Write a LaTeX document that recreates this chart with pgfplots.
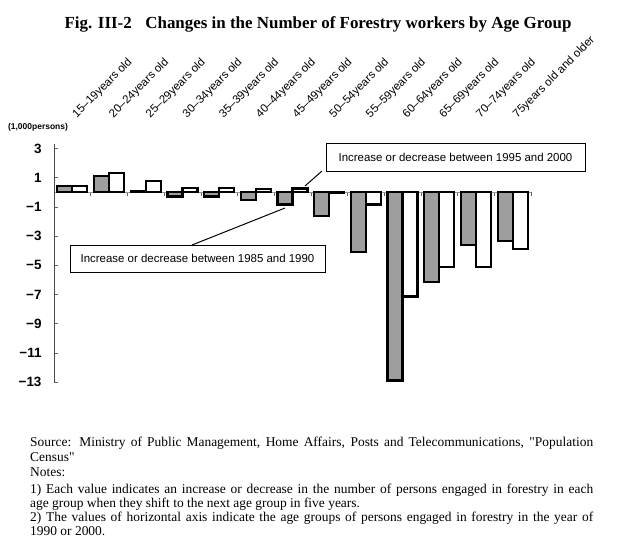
\documentclass[border=0pt]{standalone}
\usepackage{fontspec}
\setmainfont{Liberation Serif}[Ligatures=TeXOff]
\newfontfamily\arial{Liberation Sans}
\usepackage{pgfplots}
\pgfplotsset{compat=1.18}
\begin{document}
\begin{tikzpicture}
\path[use as bounding box] (0,0) rectangle (624bp,-542bp);
% title
\node[anchor=base, font=\bfseries\fontsize{17}{19}\selectfont] at (318bp,-28bp)
  {Fig. III-2\hspace{0.8em}Changes in the Number of Forestry workers by Age Group};
\node[font=\arial\bfseries\fontsize{8.5}{10}\selectfont] at (38bp,-127bp) {(1,000persons)};
\begin{axis}[
  at={(54bp,-144bp)}, anchor=north west,
  scale only axis, width=477bp, height=238.7bp,
  xmin=-0.5, xmax=12.5, ymin=-13.05, ymax=3.3,
  axis y line=left, axis x line=middle,
  axis line style={-},
  x axis line style={black!40, line width=0.5bp},
  y axis line style={black!70, line width=0.8bp},
  xtick={-0.5,0.5,...,12.5}, xticklabels={},
  ytick={-13,-11,-9,-7,-5,-3,-1,1,3},
  yticklabels={−13,−11,−9,−7,−5,−3,−1,1,3},
  yticklabel style={font=\arial\bfseries\fontsize{13.5}{15}\selectfont, xshift=-9bp},
  major tick length=4bp,
  ytick align=inside,
  xtick align=inside,
  tick style={black!60, line width=0.5bp},
  ybar=0pt, bar width=15bp,
  clip=false,
]
\addplot[ybar, fill=black!38, draw=black, line width=2.2bp] coordinates {
 (0,0.4) (1,1.1) (2,0.1) (3,-0.3) (4,-0.3) (5,-0.55) (6,-0.85) (7,-1.65)
 (8,-4.1) (9,-12.9) (10,-6.15) (11,-3.6) (12,-3.35)};
\addplot[ybar, fill=white, draw=black, line width=2.2bp] coordinates {
 (0,0.4) (1,1.3) (2,0.75) (3,0.3) (4,0.3) (5,0.23) (6,0.25) (7,-0.05)
 (8,-0.85) (9,-7.15) (10,-5.15) (11,-5.15) (12,-3.9)};
\foreach \i/\lab in {0/15–19years old,1/20–24years old,2/25–29years old,3/30–34years old,
  4/35–39years old,5/40–44years old,6/45–49years old,7/50–54years old,8/55–59years old,
  9/60–64years old,10/65–69years old,11/70–74years old,12/75years old and older}{
  \edef\temp{\noexpand\node[rotate=45, anchor=base west, xshift=3bp,
     font=\noexpand\arial\noexpand\fontsize{11.5}{13}\noexpand\selectfont]
     at (axis cs:\i,4.75) {\lab};}
  \temp
}
\end{axis}
% annotation boxes
\draw[line width=1bp] (326bp,-143bp) rectangle (585bp,-171bp);
\node[font=\arial\fontsize{11.5}{13}\selectfont] at (455.5bp,-157bp)
  {Increase or decrease between 1995 and 2000};
\draw[line width=1bp] (305bp,-186bp) -- (322bp,-171bp);
\draw[line width=1bp] (70bp,-245bp) rectangle (325bp,-272.7bp);
\node[font=\arial\fontsize{11.5}{13}\selectfont] at (197.5bp,-258.8bp)
  {Increase or decrease between 1985 and 1990};
\draw[line width=1bp] (285bp,-208bp) -- (192bp,-245bp);
% notes
\begin{scope}[every node/.style={anchor=base west, inner sep=0pt, font=\fontsize{13.5}{15}\selectfont}]
\node at (30bp,-446bp) {\makebox[563bp][s]{Source: Ministry of Public Management, Home Affairs, Posts and Telecommunications, "Population}};
\node at (30bp,-461bp) {Census"};
\node at (30bp,-476bp) {Notes:};
\node at (30bp,-493bp) {\makebox[563bp][s]{1) Each value indicates an increase or decrease in the number of persons engaged in forestry in each}};
\node at (30bp,-507bp) {age group when they shift to the next age group in five years.};
\node at (30bp,-521bp) {\makebox[563bp][s]{2) The values of horizontal axis indicate the age groups of persons engaged in forestry in the year of}};
\node at (30bp,-535bp) {1990 or 2000.};
\end{scope}
\end{tikzpicture}
\end{document}
